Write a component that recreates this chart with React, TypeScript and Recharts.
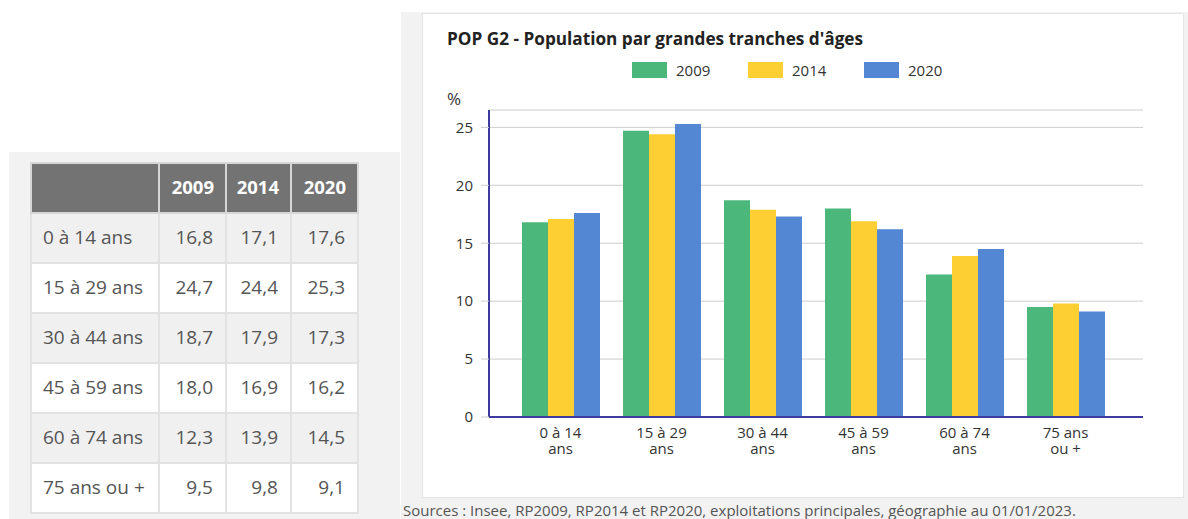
import React from "react";
import { BarChart, Bar, XAxis, YAxis, CartesianGrid } from "recharts";

const categories = ["0 à 14 ans", "15 à 29 ans", "30 à 44 ans", "45 à 59 ans", "60 à 74 ans", "75 ans ou +"];
const axisLabels = [
  ["0 à 14", "ans"],
  ["15 à 29", "ans"],
  ["30 à 44", "ans"],
  ["45 à 59", "ans"],
  ["60 à 74", "ans"],
  ["75 ans", "ou +"],
];
const years = ["2009", "2014", "2020"];
const values2009 = [16.8, 24.7, 18.7, 18.0, 12.3, 9.5];
const values2014 = [17.1, 24.4, 17.9, 16.9, 13.9, 9.8];
const values2020 = [17.6, 25.3, 17.3, 16.2, 14.5, 9.1];
const yTicks = [0, 5, 10, 15, 20, 25];
const colors = ["#4bb77a", "#fecf33", "#5487d3"];
const title = "POP G2 - Population par grandes tranches d'âges";
const source = "Sources : Insee, RP2009, RP2014 et RP2020, exploitations principales, géographie au 01/01/2023.";

const seriesValues = [values2009, values2014, values2020];
const data = categories.map((c, i) => ({
  cat: c,
  idx: i,
  y2009: values2009[i],
  y2014: values2014[i],
  y2020: values2020[i],
}));

const FONT = "'Open Sans', 'Noto Sans', sans-serif";
const fmt = (v: number) => v.toFixed(1).replace(".", ",");

const XTick = (props: any) => {
  const { x, y, payload } = props;
  const lines = axisLabels[payload.index] || [String(payload.value)];
  return (
    <g>
      <text x={x} y={y + 21} textAnchor="middle" fill="#333" fontSize={15} fontFamily={FONT}>
        {lines[0]}
      </text>
      {lines[1] ? (
        <text x={x} y={y + 37} textAnchor="middle" fill="#333" fontSize={15} fontFamily={FONT}>
          {lines[1]}
        </text>
      ) : null}
    </g>
  );
};

const cellBorder = "2px solid #e2e2e2";

export default function App() {
  return (
    <div style={{ position: "absolute", left: 0, top: 0, width: 1188, height: 519, overflow: "hidden", fontFamily: FONT, background: "#fff" }}>
      {/* left panel */}
      <div style={{ position: "absolute", left: 9, top: 152, width: 391, height: 367, background: "#f2f2f2" }} />
      <table
        style={{
          position: "absolute",
          left: 30,
          top: 162,
          width: 327,
          borderCollapse: "collapse",
          tableLayout: "fixed",
          fontSize: 19,
          color: "#555",
          fontFamily: FONT,
        }}
      >
        <colgroup>
          <col style={{ width: 128 }} />
          <col style={{ width: 67 }} />
          <col style={{ width: 65 }} />
          <col style={{ width: 67 }} />
        </colgroup>
        <thead>
          <tr style={{ height: 50, background: "#737373", color: "#fff" }}>
            <th style={{ border: "2px solid #d6d6d6", padding: 0 }}></th>
            {years.map((y) => (
              <th key={y} style={{ border: "2px solid #d6d6d6", padding: "0 11px 4px 0", textAlign: "right", fontWeight: 700, fontSize: 18.5 }}>
                {y}
              </th>
            ))}
          </tr>
        </thead>
        <tbody>
          {categories.map((c, i) => (
            <tr key={c} style={{ height: 50, background: i % 2 === 0 ? "#f0f0f0" : "#ffffff" }}>
              <td style={{ border: cellBorder, padding: "0 0 3px 11px", whiteSpace: "nowrap" }}>{c}</td>
              {seriesValues.map((s, k) => (
                <td key={k} style={{ border: cellBorder, padding: "0 12px 3px 0", textAlign: "right" }}>
                  {fmt(s[i])}
                </td>
              ))}
            </tr>
          ))}
        </tbody>
      </table>

      {/* right panel */}
      <div style={{ position: "absolute", left: 401, top: 12, width: 787, height: 507, background: "#f2f2f2" }} />
      <div
        style={{
          position: "absolute",
          left: 422,
          top: 13,
          width: 760,
          height: 483,
          background: "#fff",
          border: "1px solid #e4e4e4",
        }}
      >
        <BarChart
          width={760}
          height={483}
          data={data}
          margin={{ top: 96, right: 40, bottom: 30, left: 0 }}
          barCategoryGap={12}
          barGap={0}
        >
          <CartesianGrid horizontal vertical={false} stroke="#cccccc" strokeWidth={1} />
          <XAxis
            dataKey="cat"
            height={50}
            padding={{ left: 21, right: 27 }}
            axisLine={{ stroke: "#3c3c9c", strokeWidth: 2 }}
            tickLine={false}
            tickSize={0}
            tickMargin={0}
            interval={0}
            tick={<XTick />}
          />
          <YAxis
            width={66}
            domain={[0, 26.5]}
            ticks={yTicks}
            allowDataOverflow
            axisLine={{ stroke: "#3c3c9c", strokeWidth: 2 }}
            tickLine={{ stroke: "#cccccc" }}
            tickSize={8}
            tickMargin={8}
            tick={{ fill: "#333", fontSize: 15, fontFamily: FONT }}
          />
          <Bar dataKey="y2009" name="2009" fill={colors[0]} isAnimationActive={false} />
          <Bar dataKey="y2014" name="2014" fill={colors[1]} isAnimationActive={false} />
          <Bar dataKey="y2020" name="2020" fill={colors[2]} isAnimationActive={false} />
        </BarChart>
      </div>

      {/* title */}
      <div style={{ position: "absolute", left: 447, top: 30, fontSize: 17.2, lineHeight: "17px", fontWeight: 700, color: "#222", whiteSpace: "nowrap" }}>
        {title}
      </div>
      {/* legend */}
      {years.map((y, k) => (
        <div key={y} style={{ position: "absolute", left: 632 + k * 116, top: 62, height: 16, display: "flex", alignItems: "center" }}>
          <div style={{ width: 35, height: 16, background: colors[k] }} />
          <span style={{ marginLeft: 9, fontSize: 15, lineHeight: "16px", color: "#333" }}>{y}</span>
        </div>
      ))}
      {/* unit */}
      <div style={{ position: "absolute", left: 447, top: 90, fontSize: 17, lineHeight: "17px", color: "#333" }}>%</div>
      {/* source */}
      <div style={{ position: "absolute", left: 403, top: 503, fontSize: 15, lineHeight: "15px", color: "#555", whiteSpace: "nowrap" }}>
        {source}
      </div>
    </div>
  );
}
